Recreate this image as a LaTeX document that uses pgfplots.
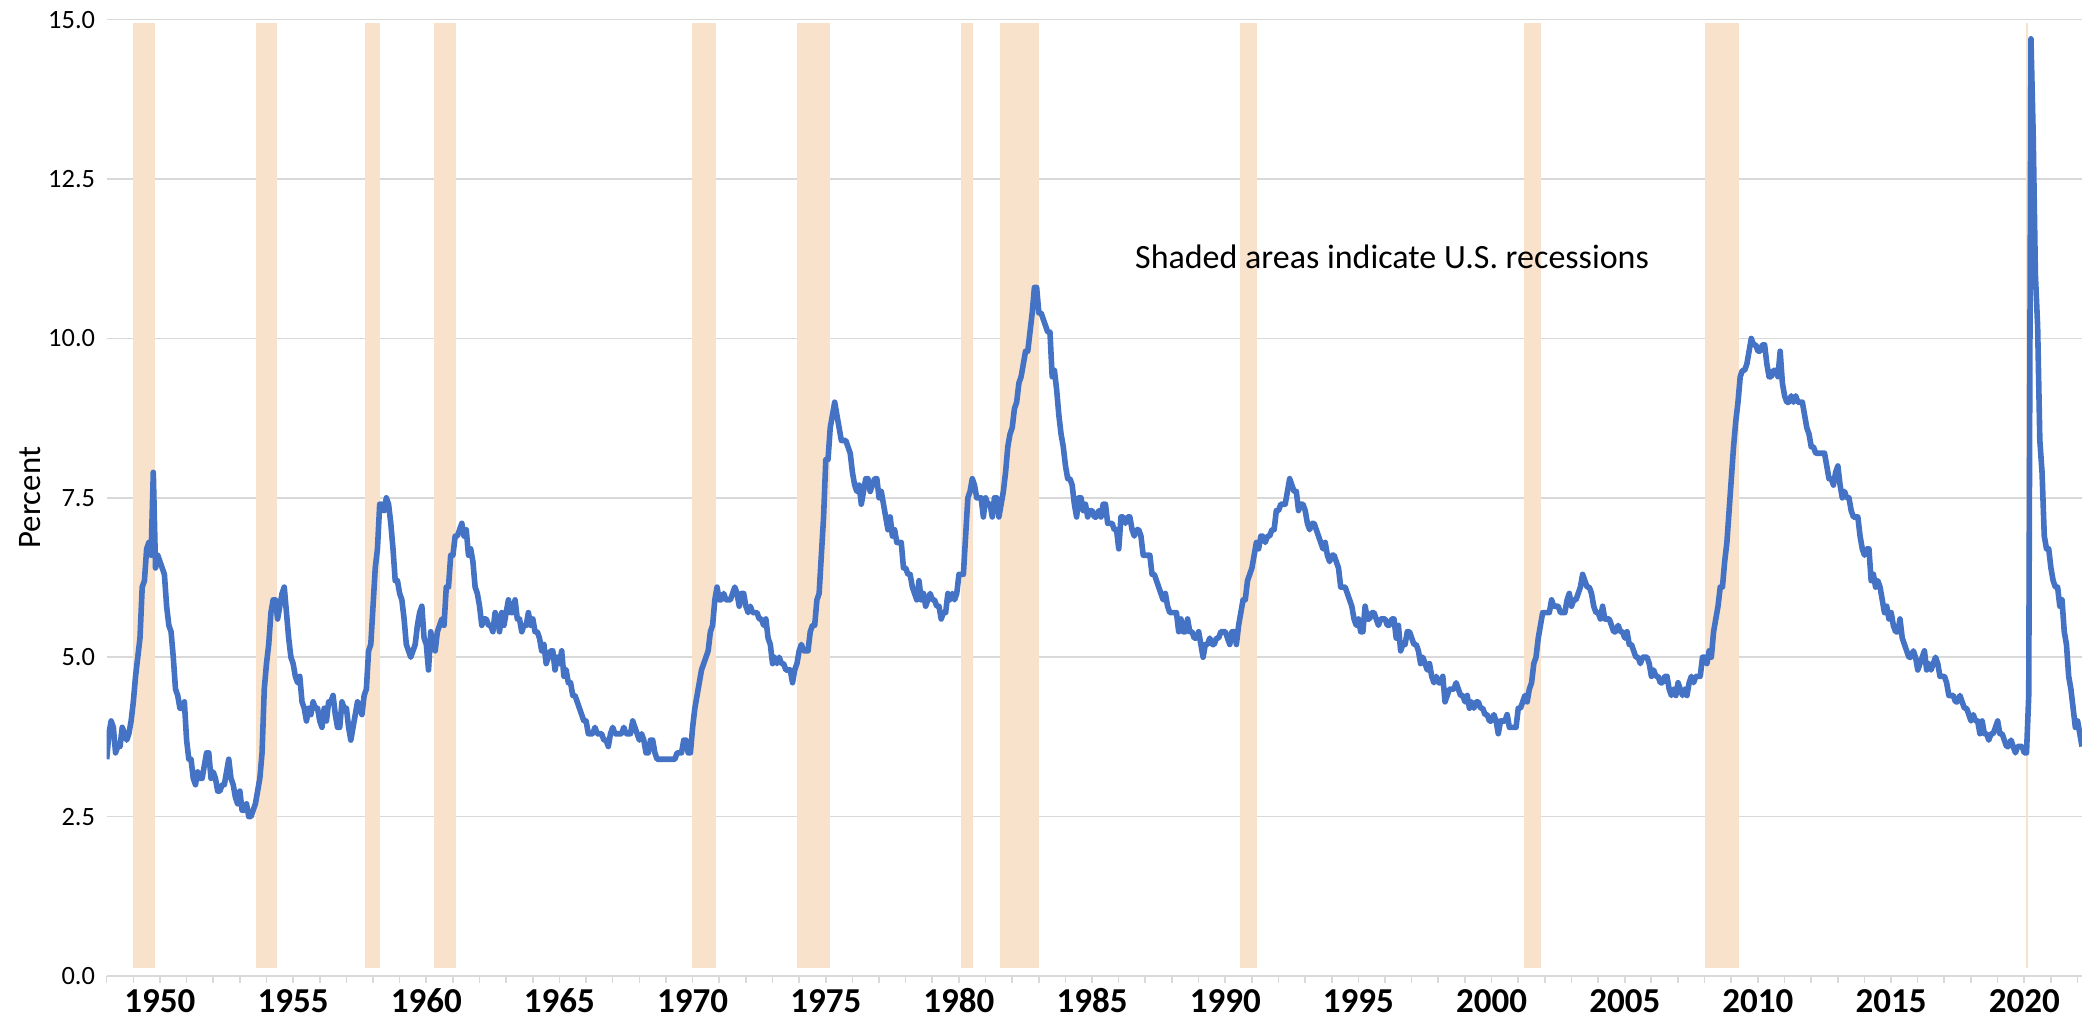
\documentclass[border=0pt]{standalone}
\usepackage{pgfplots}
\pgfplotsset{compat=1.18}
\usepackage{pgfplotstable}
\usepackage{fontspec}
\setmainfont{Carlito}
\definecolor{lineblue}{HTML}{4472C4}
\definecolor{shade}{HTML}{F9E2CC}
\definecolor{gridgray}{HTML}{D9D9D9}

\pgfplotstableread{
u
3.4
3.8
4.0
3.9
3.5
3.6
3.6
3.9
3.8
3.7
3.8
4.0
4.3
4.7
5.0
5.3
6.1
6.2
6.7
6.8
6.6
7.9
6.4
6.6
6.5
6.4
6.3
5.8
5.5
5.4
5.0
4.5
4.4
4.2
4.2
4.3
3.7
3.4
3.4
3.1
3.0
3.2
3.1
3.1
3.3
3.5
3.5
3.1
3.2
3.1
2.9
2.9
3.0
3.0
3.2
3.4
3.1
3.0
2.8
2.7
2.9
2.6
2.6
2.7
2.5
2.5
2.6
2.7
2.9
3.1
3.5
4.5
4.9
5.2
5.7
5.9
5.9
5.6
5.8
6.0
6.1
5.7
5.3
5.0
4.9
4.7
4.6
4.7
4.3
4.2
4.0
4.2
4.1
4.3
4.2
4.2
4.0
3.9
4.2
4.0
4.3
4.3
4.4
4.1
3.9
3.9
4.3
4.2
4.2
3.9
3.7
3.9
4.1
4.3
4.2
4.1
4.4
4.5
5.1
5.2
5.8
6.4
6.7
7.4
7.4
7.3
7.5
7.4
7.1
6.7
6.2
6.2
6.0
5.9
5.6
5.2
5.1
5.0
5.1
5.2
5.5
5.7
5.8
5.3
5.2
4.8
5.4
5.2
5.1
5.4
5.5
5.6
5.5
6.1
6.1
6.6
6.6
6.9
6.9
7.0
7.1
6.9
7.0
6.6
6.7
6.5
6.1
6.0
5.8
5.5
5.6
5.6
5.5
5.5
5.4
5.7
5.6
5.4
5.7
5.5
5.7
5.9
5.7
5.7
5.9
5.6
5.6
5.4
5.5
5.5
5.7
5.5
5.6
5.4
5.4
5.3
5.1
5.2
4.9
5.0
5.1
5.1
4.8
5.0
4.9
5.1
4.7
4.8
4.6
4.6
4.4
4.4
4.3
4.2
4.1
4.0
4.0
3.8
3.8
3.8
3.9
3.8
3.8
3.8
3.7
3.7
3.6
3.8
3.9
3.8
3.8
3.8
3.8
3.9
3.8
3.8
3.8
4.0
3.9
3.8
3.7
3.8
3.7
3.5
3.5
3.7
3.7
3.5
3.4
3.4
3.4
3.4
3.4
3.4
3.4
3.4
3.4
3.5
3.5
3.5
3.7
3.7
3.5
3.5
3.9
4.2
4.4
4.6
4.8
4.9
5.0
5.1
5.4
5.5
5.9
6.1
5.9
5.9
6.0
5.9
5.9
5.9
6.0
6.1
6.0
5.8
6.0
6.0
5.8
5.7
5.8
5.7
5.7
5.7
5.6
5.6
5.5
5.6
5.3
5.2
4.9
5.0
4.9
5.0
4.9
4.9
4.8
4.8
4.8
4.6
4.8
4.9
5.1
5.2
5.1
5.1
5.1
5.4
5.5
5.5
5.9
6.0
6.6
7.2
8.1
8.1
8.6
8.8
9.0
8.8
8.6
8.4
8.4
8.4
8.3
8.2
7.9
7.7
7.6
7.7
7.4
7.6
7.8
7.8
7.6
7.7
7.8
7.8
7.5
7.6
7.4
7.2
7.0
7.2
6.9
7.0
6.8
6.8
6.8
6.4
6.4
6.3
6.3
6.1
6.0
5.9
6.2
5.9
6.0
5.8
5.9
6.0
5.9
5.9
5.8
5.8
5.6
5.7
5.7
6.0
5.9
6.0
5.9
6.0
6.3
6.3
6.3
6.9
7.5
7.6
7.8
7.7
7.5
7.5
7.5
7.2
7.5
7.4
7.4
7.2
7.5
7.5
7.2
7.4
7.6
7.9
8.3
8.5
8.6
8.9
9.0
9.3
9.4
9.6
9.8
9.8
10.1
10.4
10.8
10.8
10.4
10.4
10.3
10.2
10.1
10.1
9.4
9.5
9.2
8.8
8.5
8.3
8.0
7.8
7.8
7.7
7.4
7.2
7.5
7.5
7.3
7.4
7.2
7.3
7.3
7.2
7.2
7.3
7.2
7.4
7.4
7.1
7.1
7.1
7.0
7.0
6.7
7.2
7.2
7.1
7.2
7.2
7.0
6.9
7.0
7.0
6.9
6.6
6.6
6.6
6.6
6.3
6.3
6.2
6.1
6.0
5.9
6.0
5.8
5.7
5.7
5.7
5.7
5.4
5.6
5.4
5.4
5.6
5.4
5.4
5.3
5.3
5.4
5.2
5.0
5.2
5.2
5.3
5.2
5.2
5.3
5.3
5.4
5.4
5.4
5.3
5.2
5.4
5.4
5.2
5.5
5.7
5.9
5.9
6.2
6.3
6.4
6.6
6.8
6.7
6.9
6.9
6.8
6.9
6.9
7.0
7.0
7.3
7.3
7.4
7.4
7.4
7.6
7.8
7.7
7.6
7.6
7.3
7.4
7.4
7.3
7.1
7.0
7.1
7.1
7.0
6.9
6.8
6.7
6.8
6.6
6.5
6.6
6.6
6.5
6.4
6.1
6.1
6.1
6.0
5.9
5.8
5.6
5.5
5.6
5.4
5.4
5.8
5.6
5.6
5.7
5.7
5.6
5.5
5.6
5.6
5.6
5.5
5.5
5.6
5.6
5.3
5.5
5.1
5.2
5.2
5.4
5.4
5.3
5.2
5.2
5.1
4.9
5.0
4.9
4.8
4.9
4.7
4.6
4.7
4.6
4.6
4.7
4.3
4.4
4.5
4.5
4.5
4.6
4.5
4.4
4.4
4.3
4.4
4.2
4.3
4.2
4.3
4.3
4.2
4.2
4.1
4.1
4.0
4.0
4.1
4.0
3.8
4.0
4.0
4.0
4.1
3.9
3.9
3.9
3.9
4.2
4.2
4.3
4.4
4.3
4.5
4.6
4.9
5.0
5.3
5.5
5.7
5.7
5.7
5.7
5.9
5.8
5.8
5.8
5.7
5.7
5.7
5.9
6.0
5.8
5.9
5.9
6.0
6.1
6.3
6.2
6.1
6.1
6.0
5.8
5.7
5.7
5.6
5.8
5.6
5.6
5.6
5.5
5.4
5.4
5.5
5.4
5.4
5.3
5.4
5.2
5.2
5.1
5.0
5.0
4.9
5.0
5.0
5.0
4.9
4.7
4.8
4.7
4.7
4.6
4.6
4.7
4.7
4.5
4.4
4.5
4.4
4.6
4.5
4.4
4.5
4.4
4.6
4.7
4.6
4.7
4.7
4.7
5.0
5.0
4.9
5.1
5.0
5.4
5.6
5.8
6.1
6.1
6.5
6.8
7.3
7.8
8.3
8.7
9.0
9.4
9.5
9.5
9.6
9.8
10.0
9.9
9.9
9.8
9.8
9.9
9.9
9.6
9.4
9.4
9.5
9.5
9.4
9.8
9.3
9.1
9.0
9.0
9.1
9.0
9.1
9.0
9.0
9.0
8.8
8.6
8.5
8.3
8.3
8.2
8.2
8.2
8.2
8.2
8.0
7.8
7.8
7.7
7.9
8.0
7.7
7.5
7.6
7.5
7.5
7.3
7.2
7.2
7.2
6.9
6.7
6.6
6.7
6.7
6.2
6.3
6.1
6.2
6.1
5.9
5.7
5.8
5.6
5.7
5.5
5.4
5.4
5.6
5.3
5.2
5.1
5.0
5.0
5.1
5.0
4.8
4.9
5.0
5.1
4.8
4.9
4.8
4.9
5.0
4.9
4.7
4.7
4.7
4.6
4.4
4.4
4.4
4.3
4.3
4.4
4.3
4.2
4.2
4.1
4.0
4.1
4.0
4.0
3.8
4.0
3.8
3.8
3.7
3.8
3.8
3.9
4.0
3.8
3.8
3.7
3.6
3.6
3.7
3.6
3.5
3.6
3.6
3.6
3.5
3.5
4.4
14.7
13.2
11.0
10.2
8.4
7.9
6.9
6.7
6.7
6.4
6.2
6.1
6.1
5.8
5.9
5.4
5.2
4.7
4.5
4.2
3.9
4.0
3.8
3.6
}\urate

\begin{document}
\begin{tikzpicture}
\begin{axis}[
  scale only axis,
  width=987.65pt, height=478.15pt,
  xmin=1948, xmax=2022.1667, ymin=0, ymax=15,
  axis x line=bottom, axis y line=left,
  x axis line style={-, draw=gridgray, line width=1pt},
  y axis line style={draw=none},
  ytick={0,2.5,5,7.5,10,12.5,15},
  ymajorgrids,
  grid style={draw=gridgray, line width=0.8pt},
  ytick style={draw=none},
  xtick={1950,1955,...,2020},
  minor xtick={1948,1949,...,2022},
  tick align=outside,
  major tick length=3.3pt, minor tick length=3.3pt,
  xtick style={draw=gridgray, line width=0.8pt},
  minor x tick style={draw=gridgray, line width=0.8pt},
  /pgf/number format/assume math mode=true,
  x tick label style={font=\bfseries\fontsize{17.5}{19}\selectfont, /pgf/number format/1000 sep={}, anchor=base, yshift=-15pt},
  y tick label style={font=\fontsize{13.2}{15}\selectfont, /pgf/number format/fixed, /pgf/number format/fixed zerofill, /pgf/number format/precision=1, xshift=1pt},
  ylabel={Percent},
  every axis y label/.style={at={(axis description cs:-0.0388,0.5)}, rotate=90, anchor=center, font=\fontsize{16.4}{18}\selectfont},
  every axis plot/.append style={mark=none},
]
\addplot[fill=shade, draw=none] coordinates {(1948.98,0.12) (1948.98,14.95) (1949.81,14.95) (1949.81,0.12)};
\addplot[fill=shade, draw=none] coordinates {(1953.60,0.12) (1953.60,14.95) (1954.40,14.95) (1954.40,0.12)};
\addplot[fill=shade, draw=none] coordinates {(1957.69,0.12) (1957.69,14.95) (1958.27,14.95) (1958.27,0.12)};
\addplot[fill=shade, draw=none] coordinates {(1960.29,0.12) (1960.29,14.95) (1961.10,14.95) (1961.10,0.12)};
\addplot[fill=shade, draw=none] coordinates {(1969.99,0.12) (1969.99,14.95) (1970.86,14.95) (1970.86,0.12)};
\addplot[fill=shade, draw=none] coordinates {(1973.92,0.12) (1973.92,14.95) (1975.17,14.95) (1975.17,0.12)};
\addplot[fill=shade, draw=none] coordinates {(1980.08,0.12) (1980.08,14.95) (1980.51,14.95) (1980.51,0.12)};
\addplot[fill=shade, draw=none] coordinates {(1981.55,0.12) (1981.55,14.95) (1983.00,14.95) (1983.00,0.12)};
\addplot[fill=shade, draw=none] coordinates {(1990.56,0.12) (1990.56,14.95) (1991.20,14.95) (1991.20,0.12)};
\addplot[fill=shade, draw=none] coordinates {(2001.23,0.12) (2001.23,14.95) (2001.85,14.95) (2001.85,0.12)};
\addplot[fill=shade, draw=none] coordinates {(2008.02,0.12) (2008.02,14.95) (2009.30,14.95) (2009.30,0.12)};
\addplot[fill=shade, draw=none] coordinates {(2020.07,0.12) (2020.07,14.95) (2020.15,14.95) (2020.15,0.12)};
\addplot[lineblue, line width=2.8pt, line join=round] table[x expr={1948+\coordindex/12}, y=u] {\urate};
\node[anchor=base west, inner sep=0pt, font=\fontsize{17}{20}\selectfont] at (axis cs:1986.6,11.09) {Shaded areas indicate U.S. recessions};
\end{axis}
\pgfresetboundingbox
\path[use as bounding box] ([shift={(-53.35pt,-22pt)}]current axis.south west) rectangle ([shift={(0pt,9.85pt)}]current axis.north east);
\end{tikzpicture}
\end{document}
